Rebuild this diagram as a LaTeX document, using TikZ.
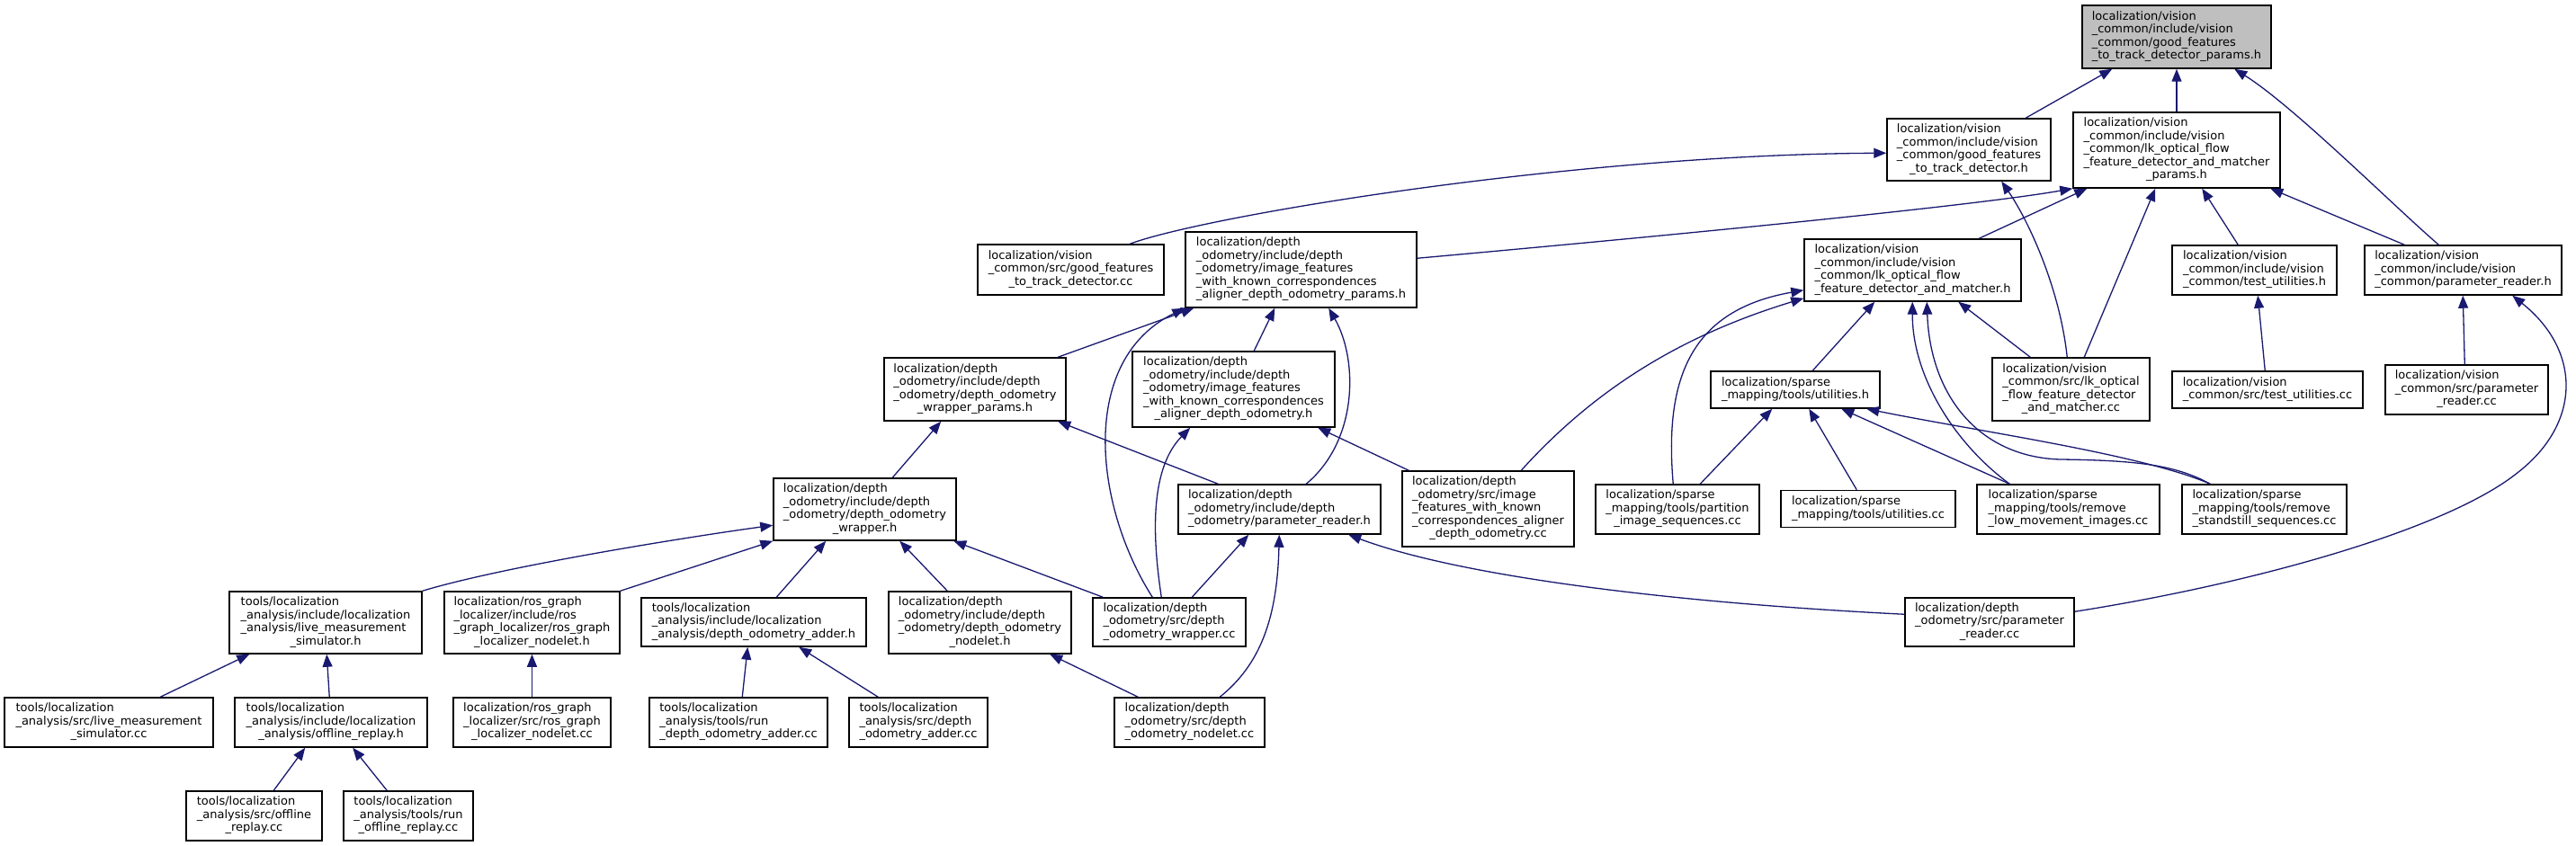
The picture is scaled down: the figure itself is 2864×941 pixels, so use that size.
\documentclass[tikz,border=0pt]{standalone}
\usepackage{fontspec}
\setmainfont{DejaVu Sans}
\usetikzlibrary{arrows.meta,calc}
\definecolor{mblue}{HTML}{191970}
\definecolor{rootgray}{HTML}{BFBFBF}
\newcommand{\lbl}[2]{\begin{tabular}{@{}l@{}}#1\\\multicolumn{1}{@{}c@{}}{#2}\end{tabular}}
\newcommand{\nfont}{\fontsize{13}{14.5}\selectfont}
\tikzset{
 box/.style 2 args={draw=black, line width=1.5pt, fill=white, rectangle, inner sep=0pt, minimum width=#1pt, minimum height=#2pt, font=\nfont, align=center},
 rootbox/.style={fill=rootgray},
 dep/.style={draw=mblue, line width=1.3pt, -{Triangle[length=14pt,width=11pt]}},
}
\begin{document}
\begin{tikzpicture}[x=1pt,y=-1pt]
\useasboundingbox (0,0) rectangle (2864,941);
% rank 0
\node[box={210}{70},rootbox] (N0) at (2420,41) {\lbl{localization/vision\\\_common/include/vision\\\_common/good\_features}{\_to\_track\_detector\_params.h}};
% rank 1
\node[box={182}{69}] (N1) at (2189,166.5) {\lbl{localization/vision\\\_common/include/vision\\\_common/good\_features}{\_to\_track\_detector.h}};
\node[box={230}{84}] (N2) at (2420,167) {\lbl{localization/vision\\\_common/include/vision\\\_common/lk\_optical\_flow\\\_feature\_detector\_and\_matcher}{\_params.h}};
% rank 2
\node[box={207}{56}] (N3) at (1190.5,300) {\lbl{localization/vision\\\_common/src/good\_features}{\_to\_track\_detector.cc}};
\node[box={257}{84}] (N4) at (1446.5,300) {\lbl{localization/depth\\\_odometry/include/depth\\\_odometry/image\_features\\\_with\_known\_correspondences}{\_aligner\_depth\_odometry\_params.h}};
\node[box={241}{69}] (N5) at (2126.5,300.5) {\lbl{localization/vision\\\_common/include/vision\\\_common/lk\_optical\_flow}{\_feature\_detector\_and\_matcher.h}};
\node[box={183}{55}] (N6) at (2506.5,300.5) {\lbl{localization/vision\\\_common/include/vision}{\_common/test\_utilities.h}};
\node[box={219}{55}] (N7) at (2738.5,300.5) {\lbl{localization/vision\\\_common/include/vision}{\_common/parameter\_reader.h}};
% rank 3
\node[box={202}{70}] (N8) at (1084,433) {\lbl{localization/depth\\\_odometry/include/depth\\\_odometry/depth\_odometry}{\_wrapper\_params.h}};
\node[box={225}{84}] (N9) at (1371.5,433) {\lbl{localization/depth\\\_odometry/include/depth\\\_odometry/image\_features\\\_with\_known\_correspondences}{\_aligner\_depth\_odometry.h}};
\node[box={188}{41}] (N10) at (1996,433.5) {\lbl{localization/sparse}{\_mapping/tools/utilities.h}};
\node[box={175}{70}] (N11) at (2302.5,433) {\lbl{localization/vision\\\_common/src/lk\_optical\\\_flow\_feature\_detector}{\_and\_matcher.cc}};
\node[box={212}{41}] (N12) at (2521,433.5) {\lbl{localization/vision}{\_common/src/test\_utilities.cc}};
\node[box={181}{55}] (N13) at (2742.5,433.5) {\lbl{localization/vision\\\_common/src/parameter}{\_reader.cc}};
% rank 4
\node[box={203}{69}] (N14) at (961.5,566.5) {\lbl{localization/depth\\\_odometry/include/depth\\\_odometry/depth\_odometry}{\_wrapper.h}};
\node[box={225}{55}] (N15) at (1422.5,566.5) {\lbl{localization/depth\\\_odometry/include/depth}{\_odometry/parameter\_reader.h}};
\node[box={191}{84}] (N16) at (1654.5,566) {\lbl{localization/depth\\\_odometry/src/image\\\_features\_with\_known\\\_correspondences\_aligner}{\_depth\_odometry.cc}};
\node[box={182}{55}] (N17) at (1865,566.5) {\lbl{localization/sparse\\\_mapping/tools/partition}{\_image\_sequences.cc}};
\node[box={194}{41}] (N18) at (2077,566) {\lbl{localization/sparse}{\_mapping/tools/utilities.cc}};
\node[box={203}{55}] (N19) at (2299.5,566.5) {\lbl{localization/sparse\\\_mapping/tools/remove}{\_low\_movement\_images.cc}};
\node[box={183}{55}] (N20) at (2517.5,566.5) {\lbl{localization/sparse\\\_mapping/tools/remove}{\_standstill\_sequences.cc}};
% rank 5
\node[box={214}{69}] (N21) at (362,692.5) {\lbl{tools/localization\\\_analysis/include/localization\\\_analysis/live\_measurement}{\_simulator.h}};
\node[box={195}{69}] (N22) at (591.5,692.5) {\lbl{localization/ros\_graph\\\_localizer/include/ros\\\_graph\_localizer/ros\_graph}{\_localizer\_nodelet.h}};
\node[box={250}{54}] (N23) at (838,692) {\lbl{tools/localization\\\_analysis/include/localization}{\_analysis/depth\_odometry\_adder.h}};
\node[box={203}{69}] (N24) at (1089.5,692.5) {\lbl{localization/depth\\\_odometry/include/depth\\\_odometry/depth\_odometry}{\_nodelet.h}};
\node[box={170}{54}] (N25) at (1300,692) {\lbl{localization/depth\\\_odometry/src/depth}{\_odometry\_wrapper.cc}};
\node[box={188}{54}] (N26) at (2212,692) {\lbl{localization/depth\\\_odometry/src/parameter}{\_reader.cc}};
% rank 6
\node[box={232}{55}] (N27) at (121,803.5) {\lbl{tools/localization\\\_analysis/src/live\_measurement}{\_simulator.cc}};
\node[box={214}{55}] (N28) at (368,803.5) {\lbl{tools/localization\\\_analysis/include/localization}{\_analysis/offline\_replay.h}};
\node[box={175}{55}] (N29) at (591.5,803.5) {\lbl{localization/ros\_graph\\\_localizer/src/ros\_graph}{\_localizer\_nodelet.cc}};
\node[box={198}{55}] (N30) at (821,803.5) {\lbl{tools/localization\\\_analysis/tools/run}{\_depth\_odometry\_adder.cc}};
\node[box={154}{55}] (N31) at (1021,803.5) {\lbl{tools/localization\\\_analysis/src/depth}{\_odometry\_adder.cc}};
\node[box={167}{55}] (N32) at (1322.5,803.5) {\lbl{localization/depth\\\_odometry/src/depth}{\_odometry\_nodelet.cc}};
% rank 7
\node[box={151}{55}] (N33) at (282.5,907.5) {\lbl{tools/localization\\\_analysis/src/offline}{\_replay.cc}};
\node[box={144}{55}] (N34) at (454,907.5) {\lbl{tools/localization\\\_analysis/tools/run}{\_offline\_replay.cc}};

% edges into N0
\draw[dep] ($(N1.north west)+(155,0)$) -- ($(N0.south west)+(34,0)$);
\draw[dep] (N2.north) -- (N0.south);
\draw[dep] ($(N7.north west)+(83,0)$) .. controls (2660,228) and (2550,118) .. ($(N0.south west)+(170,0)$);
% edges into N1
\draw[dep] ($(N3.north west)+(170,0)$) .. controls (1340,240) and (1750,172) .. ($(N1.north west)+(0,39)$);
\draw[dep] ($(N11.north west)+(84,0)$) .. controls (2290,320) and (2255,245) .. ($(N1.south west)+(128,0)$);
% edges into N2
\draw[dep] ($(N4.north east)+(0,30)$) .. controls (1900,258) and (2200,228) .. (N2.south west);
\draw[dep] ($(N5.north west)+(195,0)$) -- ($(N2.south west)+(16,0)$);
\draw[dep] ($(N11.north west)+(103,0)$) -- ($(N2.south west)+(92,0)$);
\draw[dep] ($(N6.north west)+(74,0)$) -- ($(N2.south west)+(144,0)$);
\draw[dep] ($(N7.north west)+(45,0)$) -- ($(N2.south west)+(220,0)$);
% edges into N4
\draw[dep] ($(N8.north west)+(194,0)$) -- ($(N4.south west)+(10,0)$);
\draw[dep] ($(N25.north west)+(67,0)$) .. controls (1215,560) and (1200,400) .. (N4.south west);
\draw[dep] ($(N9.north west)+(136,0)$) -- ($(N4.south west)+(100,0)$);
\draw[dep] ($(N15.north west)+(143,0)$) .. controls (1510,490) and (1510,400) .. ($(N4.south west)+(160,0)$);
% edges into N5
\draw[dep] ($(N10.north west)+(114,0)$) -- ($(N5.south west)+(79,0)$);
\draw[dep] ($(N16.north west)+(133,0)$) .. controls (1780,425) and (1880,370) .. ($(N5.south west)+(0,-4)$);
\draw[dep] ($(N17.north west)+(87,0)$) .. controls (1850,420) and (1880,345) .. ($(N5.south west)+(0,-13)$);
\draw[dep] ($(N11.north west)+(43,0)$) -- ($(N5.south west)+(172,0)$);
\draw[dep] ($(N19.north west)+(37,0)$) .. controls (2175,495) and (2126,420) .. ($(N5.south west)+(121,0)$);
\draw[dep] ($(N20.north west)+(32,0)$) .. controls (2420,518) and (2380,512) .. (2290,511) .. controls (2200,508) and (2146,440) .. ($(N5.south west)+(137,0)$);
% edges into N6, N7
\draw[dep] ($(N12.north west)+(104,0)$) -- ($(N6.south west)+(96,0)$);
\draw[dep] ($(N13.north west)+(89,0)$) -- ($(N7.south west)+(110,0)$);
\draw[dep] ($(N26.north east)+(0,16)$) .. controls (2500,650) and (2720,590) .. (2800,525) .. controls (2870,470) and (2870,390) .. ($(N7.south west)+(165,0)$);
% edges into N8, N9
\draw[dep] ($(N14.north west)+(133,0)$) -- ($(N8.south west)+(64,0)$);
\draw[dep] ($(N15.north west)+(45,0)$) -- ($(N8.south west)+(194,0)$);
\draw[dep] ($(N25.north west)+(77,0)$) .. controls (1280,590) and (1280,520) .. ($(N9.south west)+(65,0)$);
\draw[dep] ($(N16.north west)+(8,0)$) -- ($(N9.south west)+(207,0)$);
% edges into N10
\draw[dep] ($(N17.north west)+(117,0)$) -- ($(N10.south west)+(69,0)$);
\draw[dep] ($(N18.north west)+(85,0)$) -- ($(N10.south west)+(110,0)$);
\draw[dep] ($(N19.north west)+(37,0)$) -- ($(N10.south west)+(146,0)$);
\draw[dep] ($(N20.north west)+(32,0)$) .. controls (2380,505) and (2200,480) .. ($(N10.south west)+(174,0)$);
% edges into N14
\draw[dep] (N21.north east) .. controls (560,630) and (760,598) .. ($(N14.north west)+(0,53)$);
\draw[dep] (N22.north east) -- (N14.south west);
\draw[dep] ($(N23.north west)+(151,0)$) -- ($(N14.south west)+(59,0)$);
\draw[dep] ($(N24.north west)+(66,0)$) -- ($(N14.south west)+(141,0)$);
\draw[dep] ($(N25.north west)+(12,0)$) -- ($(N14.south west)+(201,0)$);
% edges into N15
\draw[dep] ($(N25.north west)+(111,0)$) -- ($(N15.south west)+(79,0)$);
\draw[dep] ($(N32.north west)+(118,0)$) .. controls (1400,740) and (1420,690) .. ($(N15.south west)+(113,0)$);
\draw[dep] ($(N26.north west)+(0,19)$) .. controls (1850,670) and (1620,640) .. ($(N15.south west)+(190,0)$);
% lower edges
\draw[dep] ($(N27.north west)+(174,0)$) -- ($(N21.south west)+(23,0)$);
\draw[dep] ($(N28.north west)+(106,0)$) -- ($(N21.south west)+(109,0)$);
\draw[dep] (N29.north) -- (N22.south);
\draw[dep] ($(N30.north west)+(104,0)$) -- ($(N23.south west)+(119,0)$);
\draw[dep] ($(N31.north west)+(33,0)$) -- ($(N23.south west)+(176,0)$);
\draw[dep] ($(N32.north west)+(27,0)$) -- ($(N24.south west)+(180,0)$);
\draw[dep] ($(N33.north west)+(98,0)$) -- ($(N28.south west)+(79,0)$);
\draw[dep] ($(N34.north west)+(49,0)$) -- ($(N28.south west)+(132,0)$);
\end{tikzpicture}
\end{document}
